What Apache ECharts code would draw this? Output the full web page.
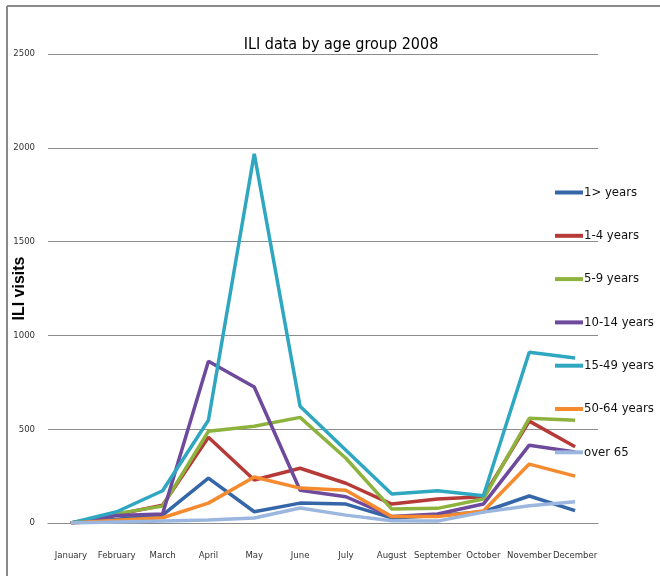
<!DOCTYPE html>
<html>
<head>
<meta charset="utf-8">
<script src="https://cdn.jsdelivr.net/npm/echarts@6/dist/echarts.min.js"></script>
<style>
  html, body { margin: 0; padding: 0; background: #fff; }
  #chart { width: 660px; height: 576px; }
</style>
</head>
<body>
<div id="chart"></div>
<script>
// months along the x axis
const months = ["January", "February", "March", "April", "May", "June",
  "July", "August", "September", "October", "November", "December"];

// ILI visits per age group
const underOne   = [0, 20, 42, 239, 60, 106, 101, 27, 40, 60, 144, 66];
const oneToFour  = [0, 45, 95, 457, 229, 292, 212, 101, 128, 140, 543, 406];
const fiveToNine = [0, 50, 90, 489, 516, 563, 345, 74, 78, 128, 558, 548];
const tenTo14    = [0, 40, 48, 862, 725, 175, 140, 34, 48, 101, 415, 378];
const fifteenTo49 = [0, 60, 172, 548, 1968, 622, 388, 154, 172, 145, 910, 879];
const fiftyTo64  = [0, 15, 28, 106, 245, 186, 175, 34, 34, 64, 314, 250];
const over65     = [0, 5, 10, 16, 27, 80, 42, 12, 10, 58, 92, 113];

const yTicks = [0, 500, 1000, 1500, 2000, 2500];

const narrow = "'Liberation Sans Narrow', 'DejaVu Sans Condensed', sans-serif";

const groups = [
  { name: "1> years",    data: underOne,    color: "#3566A8" },
  { name: "1-4 years",   data: oneToFour,   color: "#B63A37" },
  { name: "5-9 years",   data: fiveToNine,  color: "#8DB33E" },
  { name: "10-14 years", data: tenTo14,     color: "#6E4A9C" },
  { name: "15-49 years", data: fifteenTo49, color: "#2FA7C0" },
  { name: "50-64 years", data: fiftyTo64,   color: "#F58A2E" },
  { name: "over 65",     data: over65,      color: "#9BB7E0" },
];

const chart = echarts.init(document.getElementById("chart"), null, { renderer: "canvas" });

const option = {
  animation: false,
  backgroundColor: "#fff",
  title: {
    text: "ILI data by age group 2008",
    left: 336,
    textAlign: "center",
    top: 32,
    textStyle: { fontFamily: narrow, fontSize: 16, fontWeight: "normal", color: "#000" },
  },
  legend: {
    orient: "vertical",
    left: 550,
    top: 181,
    itemWidth: 28,
    itemHeight: 14,
    itemGap: 30.3,
    data: groups.map(g => ({ name: g.name, icon: "path://M0,5 L28,5 L28,9 L0,9 Z" })),
    textStyle: { fontFamily: narrow, fontSize: 13, color: "#111", padding: [0, 0, 0, -4] },
  },
  grid: {
    left: 48, right: 62, top: 54, bottom: 53,
    containLabel: false,
    outerBoundsMode: "none",
  },
  xAxis: {
    type: "category",
    data: months,
    boundaryGap: true,
    axisLine: { lineStyle: { color: "#8c8c8c", width: 1 } },
    axisTick: { show: false },
    axisLabel: { fontFamily: narrow, fontSize: 9.5, color: "#333", margin: 28, interval: 0 },
  },
  yAxis: {
    type: "value",
    min: yTicks[0],
    max: yTicks[yTicks.length - 1],
    interval: 500,
    name: "ILI visits",
    nameLocation: "middle",
    nameGap: 20,
    nameMoveOverlap: false,
    nameTextStyle: { fontFamily: "'Liberation Sans', Arial, sans-serif", fontSize: 16, fontWeight: "bold", color: "#000" },
    axisLine: { show: false },
    axisTick: { show: false },
    splitLine: { lineStyle: { color: "#8c8c8c", width: 1 } },
    axisLabel: { fontFamily: narrow, fontSize: 9.5, color: "#333", margin: 13, formatter: v => String(v) },
  },
  graphic: [
    { type: "line", shape: { x1: 7, y1: 6, x2: 660, y2: 6 }, style: { stroke: "#8a8a8a", lineWidth: 2 } },
    { type: "line", shape: { x1: 7, y1: 6, x2: 7, y2: 576 }, style: { stroke: "#8a8a8a", lineWidth: 2 } },
  ],
  series: groups.map(g => ({
    name: g.name,
    type: "line",
    data: g.data,
    symbol: "none",
    color: g.color,
    lineStyle: { color: g.color, width: 3.5 },
  })),
};

chart.setOption(option);
</script>
</body>
</html>
